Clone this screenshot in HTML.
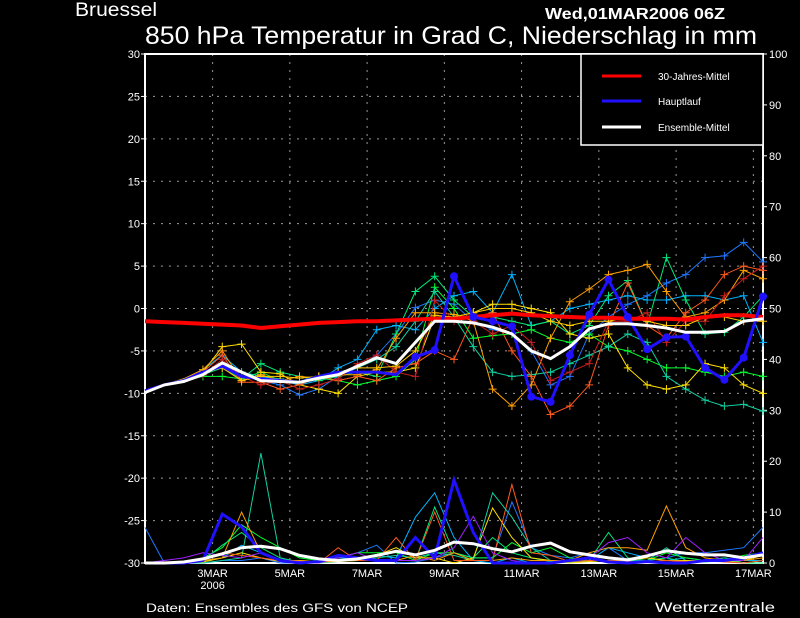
<!DOCTYPE html>
<html><head><meta charset="utf-8"><style>
html,body{margin:0;padding:0;background:#000;}
svg{display:block;}
text{font-family:"Liberation Sans",sans-serif;fill:#fff;}
</style></head><body>
<svg id="chart" width="800" height="618" viewBox="0 0 800 618">
<rect x="0" y="0" width="800" height="618" fill="#000"/>
<text x="75" y="16" font-size="19" textLength="82" lengthAdjust="spacingAndGlyphs">Bruessel</text>
<text x="545" y="19" font-size="16" font-weight="bold" textLength="180" lengthAdjust="spacingAndGlyphs">Wed,01MAR2006 06Z</text>
<text x="145" y="44" font-size="25" textLength="612" lengthAdjust="spacingAndGlyphs">850 hPa Temperatur in Grad C, Niederschlag in mm</text>
<text x="146" y="612" font-size="12" textLength="262" lengthAdjust="spacingAndGlyphs">Daten: Ensembles des GFS von NCEP</text>
<text x="655" y="612" font-size="14" textLength="120" lengthAdjust="spacingAndGlyphs">Wetterzentrale</text>
<g id="grid"></g><g id="axes"></g><g id="precip"></g><g id="temps"></g><g id="legend"></g>
</svg>
<script>
const tempTicks=[-30,-25,-20,-15,-10,-5,0,5,10,15,20,25,30];
const precipTicks=[0,10,20,30,40,50,60,70,80,90,100];
const dateLabels=["3MAR","5MAR","7MAR","9MAR","11MAR","13MAR","15MAR","17MAR"];
const dateDays=[3,5,7,9,11,13,15,17];
const climate=[-1.5,-1.6,-1.7,-1.8,-1.9,-2.0,-2.3,-2.1,-1.9,-1.7,-1.6,-1.5,-1.5,-1.4,-1.3,-1.2,-1.2,-1.0,-0.8,-0.6,-0.8,-0.9,-1.0,-1.1,-1.1,-1.2,-1.2,-1.2,-1.3,-1.0,-0.8,-0.8,-1.0];
const mainRun=[-9.7,-9.0,-8.5,-7.5,-6.8,-8.0,-8.3,-8.5,-8.7,-8.0,-7.5,-7.5,-7.5,-7.8,-5.7,-4.9,3.8,-1.0,-1.5,-2.1,-10.4,-11.0,-5.5,-0.7,3.4,-1.0,-4.8,-3.4,-3.3,-7.0,-8.4,-5.8,1.4];
const ensMean=[-9.9,-9.0,-8.6,-7.8,-6.4,-7.5,-8.5,-8.6,-8.7,-8.2,-7.8,-6.8,-5.8,-6.5,-4.0,-1.5,-1.5,-1.7,-2.2,-3.0,-5.0,-5.9,-4.5,-2.4,-1.8,-1.8,-2.0,-2.3,-2.8,-2.8,-2.7,-1.5,-1.2];
const mainPrecip=[0,0,0,0.5,9.6,7.1,2,0.5,0,0.3,1.5,1.0,0.5,0.5,5.0,1.0,16.3,6,0,0,0,0,0.5,1,0.2,0,0.3,0,0,0.5,0.5,1,2];
const meanPrecip=[0,0,0.2,0.8,1.8,3.0,3.3,2.8,1.5,0.8,0.5,0.8,1.5,2.3,1.6,2.5,4.1,3.8,2.8,2.2,3.3,3.9,2.2,1.6,1.0,0.6,1.4,2.4,1.9,1.6,1.6,1.0,1.6];
const memberColors=["#1e78ff","#00b4ff","#00ff30","#00e878","#10d0a0","#ffe000","#ffa000","#ff5a1e","#c81e1e","#ffc800"];
const memberTemps=[
[-9.8,-9,-8.5,-7.5,-6.5,-8,-8.5,-9,-10.2,-9.5,-8,-7,-5.5,-3,0.1,1,0.5,-1.5,-2.5,-3,-5,-9,-8,-3,-1,0.5,1.5,3,4,6,6.2,7.8,5.5],
[-9.8,-9,-8.3,-7.2,-5.5,-7.5,-8,-8.5,-9,-8.5,-7,-6,-2.5,-2,-2.5,0,1.5,2,-0.5,4,-2,-1.5,0,0.5,1,1.5,1,1,1.5,1.5,1,1.5,-4],
[-9.8,-9,-8.5,-8,-8,-8.3,-7.5,-8.5,-8.8,-8.2,-8.5,-9,-8.5,-8,-6,2.5,0,-3.5,-3.2,-3,-2.5,-3.5,-4,-3,-4.5,-5,-6,-7,-7,-7.5,-8,-7.5,-8],
[-9.8,-9,-8.3,-7.8,-7,-8.3,-6.5,-7.5,-8,-8.5,-8,-7.5,-8,-3,2,3.8,1,-1,-1,-1.5,-2,-1.5,-3,-2,1.5,3.3,-2,6,1,-3,-2.8,-1,1.5],
[-9.8,-9,-8.3,-7.8,-6.5,-7.5,-8,-8.3,-8.8,-8,-7.5,-7,-6,-4.5,-1.5,2,-1,-4.5,-7.5,-8,-7.8,-7.5,-6.5,-5.5,-4.5,-3,-4,-8,-9.5,-10.8,-11.5,-11.3,-12.1],
[-9.8,-9,-8.3,-7.5,-4.5,-4.2,-7.5,-7.7,-9,-9.5,-10,-8,-7.5,-7.5,-7,-1,-1,-0.5,0.5,0.5,0,-0.5,-3,-3.5,-3,-7,-9,-9.5,-9,-6.5,-7,-9,-10],
[-9.8,-9,-8.3,-7.2,-5,-8.5,-7.8,-8.5,-8,-8.2,-7.8,-7.8,-7.2,-3.5,-0.5,-0.5,-0.7,-1.5,-9.5,-11.5,-9,-3.5,0.8,2.3,4,4.5,5.2,2,-1,-0.5,1,4.5,3.5],
[-9.8,-9,-8.3,-7.5,-5.5,-8.7,-8.7,-9.5,-9,-8,-8.5,-8,-8.5,-7,-6.5,-5,-6,-1,-0.5,-5,-8,-12.5,-11.5,-9,-2,3,-2,-3.5,-0.5,1,4,5,4.5],
[-9.8,-9,-8.5,-7.8,-6,-8,-9,-8.5,-9.5,-9,-8.3,-6.5,-5.5,-7.5,-8,1,-1.5,-1.5,-3,-2,-4,-8.5,-7.5,-6.5,-1.5,-1.5,-0.5,-4,-1.5,-1.5,1.5,3.5,5],
[-9.8,-9,-8.3,-7.5,-7,-8.5,-8,-8,-8.2,-8,-7.5,-7,-7,-6.8,-5,-0.8,-1,-0.5,0,0,-0.5,-1.5,-2,-1.5,-1.5,-1,-1.5,-2,-2,-1,-1,-1.5,-1.5]];
const precipColors=["#1e78ff","#00b4ff","#00ff30","#00e878","#10d0a0","#ffe000","#ffa000","#ff5a1e","#a020ff"];
const memberPrecip=[
[7,0,0,0,0.5,0.5,1,0,0,0.5,1,2,3.5,0,0.2,1,2,1,1,12,3,1.5,1,2,3,0.5,0.5,1,2,2,2.5,3,7],
[0,0,0,0.5,1,3.5,2,0.5,0,0.5,1,1,1.5,1,9,13.8,5,0.5,0,1,0,0,0.5,0.5,3,2,1,0.5,1,0.5,1,0.5,0.5],
[0,0,0,1,3,7.5,5,3,1,0.5,1,2,2,2,0.5,2,2,1,1,4,2,3,1,0.5,0.5,0.5,0.5,2,1,0.5,0.5,1.5,2],
[0,0,0,0.5,3.5,6,3,1,0.2,0.5,0.5,1,0.3,0.5,0.5,11,2,1,5,2,1,0.3,0.5,0.5,6,1,0.5,1,0.2,0.5,1,0,0],
[0,0,0,0,0.5,1,21.6,1,0,0,0.3,0.5,1,1.5,1,2,1.5,0.5,13.8,9,3,0.5,0.2,0.5,0.5,0.5,0.5,3,0.5,0.2,0.5,0,0.5],
[0,0,0,0.2,1,2,1,0.3,0.5,0.3,0.5,1,1.5,3,1,1,0,1,10.8,5,1,0.5,0,0.3,0.5,0.5,1,0.5,0.5,0.5,0.3,0.5,1.5],
[0,0,0,0.5,1,10,2,0.5,0.5,0.2,0.3,0.5,0.5,0.5,1.5,0.5,2,0.5,0.5,1,0.5,0.5,0.5,2,3,3,2.5,11.2,3,1,0.5,0.5,1],
[0,0,0,1,2,1.5,1,0.5,0.3,0,3,0.5,0.5,5,0.5,10,0.5,0.5,0.5,15.4,2,1.5,0.3,0.5,0.5,0.3,0.3,0.5,0.3,0.5,0.2,0,0.5],
[0,0.5,1,2,1.5,1,2,0.5,0.3,0,1,2,0.5,0.5,0.5,1,3,9.2,2,0.5,0,0,0.5,1,4,5,2,1,5,2,0.5,0.5,5]];

const L=145,R=763,T=54,B=563;
const NS="http://www.w3.org/2000/svg";
function xAt(i){return L+i*(R-L)/32;}
function xDay(d){return L+(d-1.25)*(R-L)/16;}
function yT(v){return B-(v+30)*(B-T)/60;}
function yP(v){return B-v*(B-T)/100;}
function mk(tag,attrs,parent){const e=document.createElementNS(NS,tag);for(const k in attrs)e.setAttribute(k,attrs[k]);parent.appendChild(e);return e;}
const grid=document.getElementById('grid'),axes=document.getElementById('axes'),pr=document.getElementById('precip'),tp=document.getElementById('temps'),lg=document.getElementById('legend');

tempTicks.forEach(v=>{
  const y=yT(v);
  if(v>-30&&v<30){const g=mk('line',{x1:L,x2:R,y1:y,y2:y,stroke:'#999','stroke-width':1,'stroke-dasharray':'2,6'},grid);
  
  }
  const t=mk('line',{x1:L-4,x2:L,y1:y,y2:y,stroke:'#fff'},axes);
  
  
  const lb=mk('text',{x:L-5,y:y+4,'font-size':11,'text-anchor':'end'},axes);lb.textContent=v;
  
  
});
precipTicks.forEach(v=>{
  const y=yP(v);
  const t=mk('line',{x1:R,x2:R+4,y1:y,y2:y,stroke:'#fff'},axes);
  
  
  const lb=mk('text',{x:R+6,y:y+4,'font-size':11},axes);lb.textContent=v;
  
  
});
dateDays.forEach((d,k)=>{
  const x=xDay(d);
  const g=mk('line',{x1:x,x2:x,y1:T,y2:B,stroke:'#999','stroke-width':1,'stroke-dasharray':'2,6'},grid);
  
  
  const lb=mk('text',{x:x,y:B+14,'font-size':11,'text-anchor':'middle'},axes);lb.textContent=dateLabels[k];
  
  
});
const yr=mk('text',{x:xDay(3),y:B+26,'font-size':11,'text-anchor':'middle'},axes);yr.textContent='2006';


const frame=mk('rect',{x:L,y:T,width:R-L,height:B-T,fill:'none',stroke:'#fff','stroke-width':2},axes);



function pts(arr,yf){return arr.map((v,i)=>xAt(i).toFixed(1)+','+yf(v).toFixed(1)).join(' ');}
memberPrecip.forEach((arr,m)=>{
  const p=mk('polyline',{points:pts(arr,yP),fill:'none',stroke:precipColors[m],'stroke-width':1},pr);
  
  
});
const mp=mk('polyline',{points:pts(mainPrecip,yP),fill:'none',stroke:'#2010ff','stroke-width':3},pr);


const ep=mk('polyline',{points:pts(meanPrecip,yP),fill:'none',stroke:'#fff','stroke-width':3},pr);



memberTemps.forEach((arr,m)=>{
  const p=mk('polyline',{points:pts(arr,yT),fill:'none',stroke:memberColors[m],'stroke-width':1},tp);
  
  
  arr.forEach((v,i)=>{
    if(i<3)return;
    const x=xAt(i),y=yT(v);
    const c=mk('path',{d:`M${x-4},${y}H${x+4}M${x},${y-4}V${y+4}`,stroke:memberColors[m],'stroke-width':1},tp);
    
    
  });
});
const cl=mk('polyline',{points:pts(climate,yT),fill:'none',stroke:'#ff0000','stroke-width':4},tp);


const ml=mk('polyline',{points:pts(mainRun,yT),fill:'none',stroke:'#2010ff','stroke-width':3},tp);


mainRun.forEach((v,i)=>{
  if(i<14)return;
  const d=mk('circle',{cx:xAt(i),cy:yT(v),r:4,fill:'#2010ff'},tp);
  
  
});
const el=mk('polyline',{points:pts(ensMean,yT),fill:'none',stroke:'#fff','stroke-width':3},tp);



const box=mk('rect',{x:581,y:T,width:R-581,height:91,fill:'#000',stroke:'#fff','stroke-width':1.5},lg);


[["#ff0000","30-Jahres-Mittel",76],["#2010ff","Hauptlauf",101],["#ffffff","Ensemble-Mittel",127]].forEach(e=>{
  const s=mk('line',{x1:602,x2:641,y1:e[2],y2:e[2],stroke:e[0],'stroke-width':3},lg);
  
  
  const t=mk('text',{x:658,y:e[2]+4,'font-size':10},lg);t.textContent=e[1];
  
  
});
</script>
</body></html>
